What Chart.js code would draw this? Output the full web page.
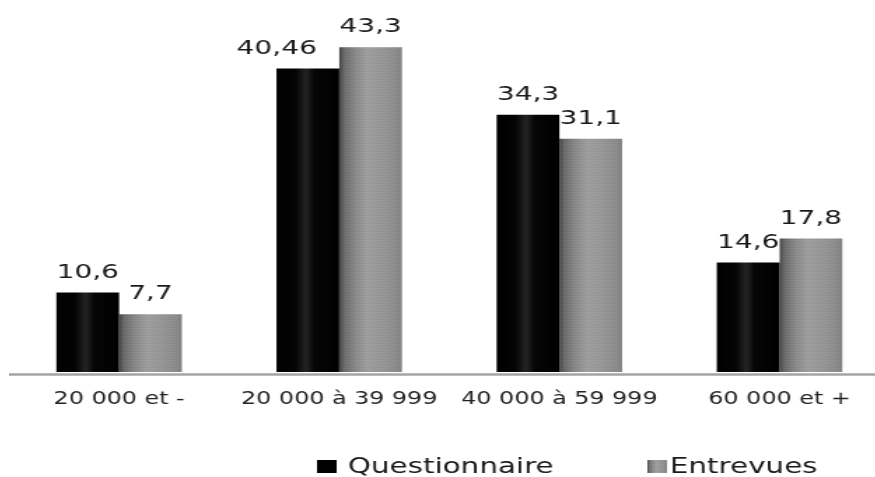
<!DOCTYPE html>
<html>
<head>
<meta charset="utf-8">
<script src="https://cdn.jsdelivr.net/npm/chart.js@4.4.1/dist/chart.umd.min.js"></script>
<style>
  html, body { margin: 0; padding: 0; background: #fff; overflow: hidden; width: 875px; height: 477px; }
  /* the drawing is laid out narrow and widened horizontally */
  #wrap { position: absolute; left: 9px; top: 0; width: 629px; height: 477px; transform: scaleX(1.4); transform-origin: 0 0; }
</style>
</head>
<body>
<div id="wrap"><canvas id="c"></canvas></div>
<script>
// Revenus par tranche : questionnaire vs entrevues (%)
const categories = ['20 000 et -', '20 000 à 39 999', '40 000 à 59 999', '60 000 et +'];
const seriesNames = ['Questionnaire', 'Entrevues'];
const questionnaire = [10.6, 40.46, 34.3, 14.6];
const entrevues = [7.7, 43.3, 31.1, 17.8];

const FONT = '"DejaVu Sans", Verdana, sans-serif';
const CAT_PCT = 0.57;

function fr(v) { return String(v).replace('.', ','); }

function barGeom(chart, ds, i) {
  const xs = chart.scales && chart.scales.x;
  if (!xs) return null;
  const center = xs.getPixelForValue(i);
  const catW = xs.width / categories.length;
  const w = catW * CAT_PCT / 2;
  const left = ds === 0 ? center - w : center;
  if (!Number.isFinite(left) || !Number.isFinite(w) || w <= 0) return null;
  return { left, w };
}

// dark cylinder-like shading
function blackFill(c) {
  if (c.type !== 'data') return '#000';
  const gm = barGeom(c.chart, 0, c.dataIndex);
  if (!gm) return '#000';
  const g = c.chart.ctx.createLinearGradient(gm.left, 0, gm.left + gm.w, 0);
  g.addColorStop(0, '#000');
  g.addColorStop(0.3, '#040404');
  g.addColorStop(0.47, '#242424');
  g.addColorStop(0.6, '#060606');
  g.addColorStop(1, '#000');
  return g;
}

// grey shading with a fine grainy texture
function grayTile(w) {
  const W = Math.ceil(w) + 2, H = 4;
  const off = document.createElement('canvas');
  off.width = W; off.height = H;
  const o = off.getContext('2d');
  const g = o.createLinearGradient(0, 0, w, 0);
  g.addColorStop(0, '#444');
  g.addColorStop(0.08, '#6c6c6c');
  g.addColorStop(0.25, '#8a8a8a');
  g.addColorStop(0.45, '#a0a0a0');
  g.addColorStop(0.7, '#979797');
  g.addColorStop(0.92, '#8c8c8c');
  g.addColorStop(1, '#808080');
  o.fillStyle = g;
  o.fillRect(0, 0, W, H);
  // checker-like grain
  for (let x = 0; x < W; x += 2) {
    o.fillStyle = 'rgba(0,0,0,0.06)';
    o.fillRect(x, 1, 1, 1);
    o.fillRect(x + 1, 3, 1, 1);
    o.fillStyle = 'rgba(255,255,255,0.05)';
    o.fillRect(x + 1, 0, 1, 1);
    o.fillRect(x, 2, 1, 1);
  }
  return off;
}

function grayFill(c) {
  if (c.type !== 'data') return '#8c8c8c';
  const gm = barGeom(c.chart, 1, c.dataIndex);
  if (!gm) return '#8c8c8c';
  const p = c.chart.ctx.createPattern(grayTile(gm.w), 'repeat');
  p.setTransform(new DOMMatrix([1, 0, 0, 1, gm.left, 0]));
  return p;
}

// baseline under the bars
const axisLine = {
  id: 'axisLine',
  beforeDatasetsDraw(chart) {
    const { ctx, chartArea } = chart;
    ctx.save();
    ctx.strokeStyle = '#a4a4a4';
    ctx.lineWidth = 2.6;
    ctx.beginPath();
    ctx.moveTo(0, chartArea.bottom + 2.5);
    ctx.lineTo(chart.width, chartArea.bottom + 2.5);
    ctx.stroke();
    ctx.restore();
  }
};

// value labels above each bar, nudged away from a taller neighbour
const valueLabels = {
  id: 'valueLabels',
  afterDatasetsDraw(chart) {
    const ctx = chart.ctx;
    ctx.save();
    ctx.font = '20px ' + FONT;
    ctx.fillStyle = '#1a1a1a';
    ctx.textAlign = 'center';
    ctx.textBaseline = 'alphabetic';
    chart.data.datasets.forEach((ds, d) => {
      const meta = chart.getDatasetMeta(d);
      const otherMeta = chart.getDatasetMeta(1 - d);
      meta.data.forEach((el, i) => {
        const txt = fr(ds.data[i]);
        const tw = ctx.measureText(txt).width;
        const y = el.y - 15;
        let cx = el.x;
        const other = otherMeta.data[i];
        if (other && other.y < y) {
          if (d === 0) {
            const oLeft = other.x - other.width / 2;
            if (cx + tw / 2 - oLeft > 3) cx = oLeft - 16 - tw / 2;
          } else {
            const oRight = other.x + other.width / 2;
            if (oRight - (cx - tw / 2) > 3) cx = oRight + 16 + tw / 2;
          }
        }
        ctx.fillText(txt, cx, y);
      });
    });
    ctx.restore();
  }
};

// legend row at the bottom
const legendRow = {
  id: 'legendRow',
  afterDraw(chart) {
    const ctx = chart.ctx;
    const base = chart.height - 4;
    ctx.save();
    ctx.font = '21px ' + FONT;
    ctx.textBaseline = 'alphabetic';
    ctx.textAlign = 'left';
    // Questionnaire
    ctx.fillStyle = '#000';
    ctx.fillRect(220, base - 13, 14, 13);
    ctx.fillStyle = '#1a1a1a';
    ctx.fillText(seriesNames[0], 242, base);
    // Entrevues
    const p = ctx.createPattern(grayTile(14), 'repeat');
    p.setTransform(new DOMMatrix([1, 0, 0, 1, 456, 0]));
    ctx.fillStyle = p;
    ctx.fillRect(456, base - 13, 14, 13);
    ctx.fillStyle = '#1a1a1a';
    ctx.fillText(seriesNames[1], 472, base);
    ctx.restore();
  }
};

new Chart(document.getElementById('c'), {
  type: 'bar',
  data: {
    labels: categories,
    datasets: [
      { label: seriesNames[0], data: questionnaire, backgroundColor: blackFill, borderWidth: 0,
        categoryPercentage: CAT_PCT, barPercentage: 1 },
      { label: seriesNames[1], data: entrevues, backgroundColor: grayFill, borderWidth: 0,
        categoryPercentage: CAT_PCT, barPercentage: 1 }
    ]
  },
  options: {
    animation: false,
    responsive: true,
    maintainAspectRatio: false,
    layout: { padding: { top: 0, left: 0, right: 0, bottom: 50.6 } },
    plugins: { legend: { display: false }, tooltip: { enabled: false } },
    scales: {
      x: {
        grid: { display: false, drawTicks: false },
        border: { display: false },
        ticks: { font: { family: FONT, size: 17 }, color: '#222', padding: 17, maxRotation: 0, autoSkip: false }
      },
      y: { display: false, min: 0, max: 49.6 }
    }
  },
  plugins: [axisLine, valueLabels, legendRow]
});
</script>
</body>
</html>
